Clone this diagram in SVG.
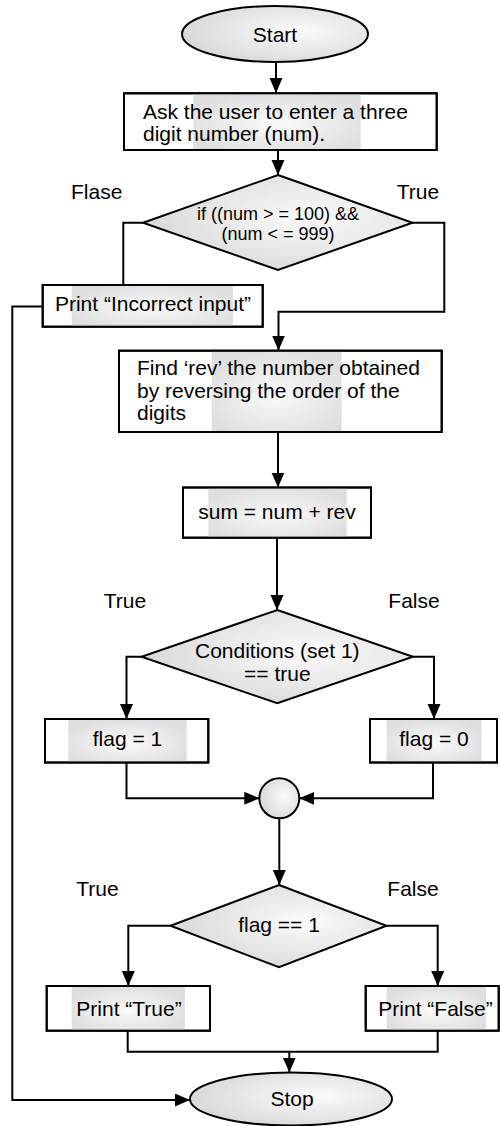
<svg xmlns="http://www.w3.org/2000/svg" width="500" height="1126" viewBox="0 0 500 1126">
  <defs>
    <radialGradient id="shade" cx="0.62" cy="0.45" r="0.62">
      <stop offset="0" stop-color="#fbfbfb"/>
      <stop offset="1" stop-color="#d9d9d9"/>
    </radialGradient>
    <radialGradient id="band" cx="0.5" cy="0.55" r="0.6">
      <stop offset="0" stop-color="#fafafa"/>
      <stop offset="1" stop-color="#dedede"/>
    </radialGradient>
    <marker id="arrow" markerUnits="userSpaceOnUse" markerWidth="16" markerHeight="14" refX="15" refY="6.5" orient="auto">
      <path d="M0,0 L15,6.5 L0,13 z" fill="#000"/>
    </marker>
  </defs>
  <style>
    .shape { fill: url(#shade); stroke: #000; stroke-width: 2; }
    .box { fill: #fff; stroke: #000; stroke-width: 2; }
    .band { fill: url(#band); }
    .frame { fill: none; stroke: #000; stroke-width: 2; }
    text { font-family: "Liberation Sans", Arial, sans-serif; font-size: 21px; fill: #000; }
    .c { text-anchor: middle; }
    .small { font-size: 18px; }
    .link { fill: none; stroke: #000; stroke-width: 2; }
    .arr { marker-end: url(#arrow); }
  </style>

  <rect width="500" height="1126" fill="#fff"/>

  <!-- connectors -->
  <g id="connectors">
    <path class="link arr" d="M276,62 V93"/>
    <path class="link arr" d="M278,150 V175"/>
    <path class="link" d="M143,222.7 H123.3 V285"/>
    <path class="link arr" d="M412.5,222.7 H444.3 V311.7 H278.5 V350.5"/>
    <path class="link arr" d="M42.7,306.5 H12.3 V1100 H190"/>
    <path class="link arr" d="M278,432 V487.5"/>
    <path class="link arr" d="M277,537.7 V610"/>
    <path class="link arr" d="M141.5,656.7 H126.5 V719"/>
    <path class="link arr" d="M413,656.7 H434 V719"/>
    <path class="link arr" d="M126.5,762.5 V798.3 H259.3"/>
    <path class="link arr" d="M433,762.5 V798.3 H299.3"/>
    <path class="link arr" d="M279.3,818.3 V885"/>
    <path class="link arr" d="M170.5,925.7 H128.3 V986"/>
    <path class="link arr" d="M386.5,925.7 H437.7 V986"/>
    <path class="link" d="M127.7,1030.7 V1051.7 H437.7 V1030.7"/>
    <path class="link arr" d="M289.3,1051.7 V1072.5"/>
  </g>

  <!-- start -->
  <g id="start">
    <ellipse class="shape" cx="275" cy="34" rx="93" ry="28"/>
    <text class="c" x="275" y="41.5">Start</text>
  </g>

  <!-- input step -->
  <g id="ask">
    <rect class="box" x="124" y="93.3" width="312.7" height="56.7"/>
    <rect class="band" x="193.3" y="94.3" width="167.4" height="54.7"/>
    <rect class="frame" x="124" y="93.3" width="312.7" height="56.7"/>
    <text x="143" y="118.5">Ask the user to enter a three</text>
    <text x="143" y="140.5">digit number (num).</text>
  </g>

  <!-- range check -->
  <g id="check-range">
    <polygon class="shape" points="278,175 412.5,222.7 278,270 143,222.7"/>
    <text class="c small" x="278" y="220">if ((num &gt; = 100) &amp;&amp;</text>
    <text class="c small" x="278" y="240">(num &lt; = 999)</text>
    <text class="c" x="96.7" y="199">Flase</text>
    <text class="c" x="418" y="199">True</text>
  </g>

  <!-- bad input -->
  <g id="incorrect">
    <rect class="box" x="42.7" y="285" width="220" height="41.7"/>
    <rect class="band" x="71.7" y="286" width="161.3" height="39.7"/>
    <rect class="frame" x="42.7" y="285" width="220" height="41.7"/>
    <text class="c" x="153" y="310.5">Print “Incorrect input”</text>
  </g>

  <!-- reverse -->
  <g id="find-rev">
    <rect class="box" x="119" y="350.7" width="322.7" height="81.3"/>
    <rect class="band" x="211.7" y="351.7" width="130" height="79.3"/>
    <rect class="frame" x="119" y="350.7" width="322.7" height="81.3"/>
    <text x="137" y="375">Find ‘rev’ the number obtained</text>
    <text x="137" y="397.5">by reversing the order of the</text>
    <text x="137" y="420">digits</text>
  </g>

  <!-- sum -->
  <g id="sum">
    <rect class="box" x="183" y="487.5" width="188" height="50.2"/>
    <rect class="band" x="208.3" y="488.5" width="138.4" height="48.2"/>
    <rect class="frame" x="183" y="487.5" width="188" height="50.2"/>
    <text class="c" x="277" y="519">sum = num + rev</text>
  </g>

  <!-- condition set 1 -->
  <g id="check-conditions">
    <polygon class="shape" points="277.3,610 413,656.7 277.3,703.3 141.5,656.7"/>
    <text class="c" x="277.3" y="657.5">Conditions (set 1)</text>
    <text class="c" x="277.3" y="681">== true</text>
    <text class="c" x="125" y="608">True</text>
    <text class="c" x="414" y="608">False</text>
  </g>

  <g id="flag-one">
    <rect class="box" x="45" y="719" width="163.3" height="43.5"/>
    <rect class="band" x="68.3" y="720" width="118.4" height="41.5"/>
    <rect class="frame" x="45" y="719" width="163.3" height="43.5"/>
    <text class="c" x="127.5" y="746">flag = 1</text>
  </g>

  <g id="flag-zero">
    <rect class="box" x="370" y="719" width="127" height="43.5"/>
    <rect class="band" x="386.7" y="720" width="95" height="41.5"/>
    <rect class="frame" x="370" y="719" width="127" height="43.5"/>
    <text class="c" x="434" y="746">flag = 0</text>
  </g>

  <!-- join -->
  <g id="join">
    <circle class="shape" cx="279.3" cy="798.3" r="20"/>
  </g>

  <!-- flag test -->
  <g id="check-flag">
    <polygon class="shape" points="279,885 386.5,925.7 279,967.3 170.5,925.7"/>
    <text class="c" x="279" y="932">flag == 1</text>
    <text class="c" x="97.5" y="896">True</text>
    <text class="c" x="413" y="896">False</text>
  </g>

  <g id="print-true">
    <rect class="box" x="46.7" y="986" width="163.3" height="44.7"/>
    <rect class="band" x="71.7" y="987" width="113.3" height="42.7"/>
    <rect class="frame" x="46.7" y="986" width="163.3" height="44.7"/>
    <text class="c" x="129" y="1015.5">Print “True”</text>
  </g>

  <g id="print-false">
    <rect class="box" x="365.7" y="986" width="133" height="44.7"/>
    <rect class="band" x="386.7" y="987" width="99.3" height="42.7"/>
    <rect class="frame" x="365.7" y="986" width="133" height="44.7"/>
    <text class="c" x="435.5" y="1015.5">Print “False”</text>
  </g>

  <!-- stop -->
  <g id="stop">
    <ellipse class="shape" cx="291" cy="1099" rx="101" ry="26.5"/>
    <text class="c" x="292" y="1106">Stop</text>
  </g>
</svg>
